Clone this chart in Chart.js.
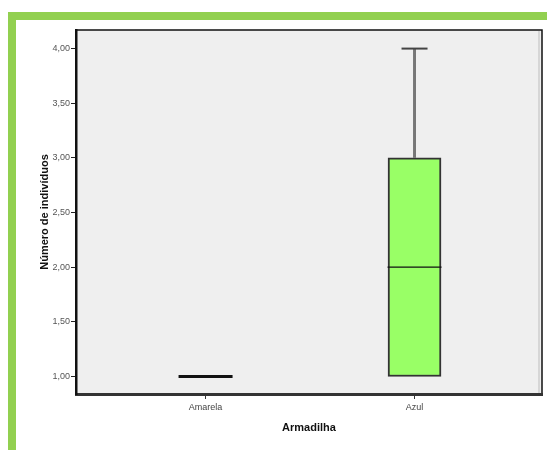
<!DOCTYPE html>
<html>
<head>
<meta charset="utf-8">
<script src="https://cdn.jsdelivr.net/npm/chart.js@4.4.0/dist/chart.umd.min.js"></script>
<style>
  body { margin: 0; background: #fff; }
  #frame {
    position: absolute; left: 8px; top: 12px; right: 0; bottom: 0;
    border-top: 8px solid #92d050; border-left: 8px solid #92d050;
  }
  #myChart { position: absolute; left: 0; top: 0; }
</style>
</head>
<body>
<div id="frame"></div>
<canvas id="myChart" width="547" height="450"></canvas>
<script>
// box plot values per trap colour
const categories = ['Amarela', 'Azul'];
const minValues = [1, 1];
const q1Values = [1, 1];
const medianValues = [1, 2];
const q3Values = [1, 3];
const maxValues = [1, 4];
const yTicks = [1, 1.5, 2, 2.5, 3, 3.5, 4];

const plotFrame = {
    id: 'plotFrame',
    beforeDraw(chart) {
        const a = chart.chartArea;
        const ctx = chart.ctx;
        ctx.save();
        ctx.fillStyle = '#efefef';
        ctx.fillRect(a.left, a.top, a.right - a.left, a.bottom - a.top);
        ctx.strokeStyle = '#d6d6d6';
        ctx.lineWidth = 2;
        ctx.beginPath();
        ctx.moveTo(a.right - 3, a.top + 1);
        ctx.lineTo(a.right - 3, a.bottom);
        ctx.stroke();
        ctx.strokeStyle = '#111';
        ctx.lineWidth = 1.5;
        ctx.beginPath();
        ctx.moveTo(a.left, a.top);
        ctx.lineTo(a.right, a.top);
        ctx.lineTo(a.right, a.bottom);
        ctx.stroke();
        ctx.restore();
    }
};

const boxPlot = {
    id: 'boxPlot',
    afterDatasetsDraw(chart) {
        const ctx = chart.ctx;
        const x = chart.scales.x;
        const y = chart.scales.y;
        const half = 27;
        const cap = 13;
        ctx.save();
        categories.forEach((c, i) => {
            const cx = x.getPixelForValue(i);
            // whiskers
            ctx.strokeStyle = '#777';
            ctx.lineWidth = 3;
            ctx.beginPath();
            if (maxValues[i] > q3Values[i]) {
                ctx.moveTo(cx, y.getPixelForValue(q3Values[i]));
                ctx.lineTo(cx, y.getPixelForValue(maxValues[i]));
            }
            if (minValues[i] < q1Values[i]) {
                ctx.moveTo(cx, y.getPixelForValue(q1Values[i]));
                ctx.lineTo(cx, y.getPixelForValue(minValues[i]));
            }
            ctx.stroke();
            ctx.strokeStyle = '#444';
            ctx.lineWidth = 2;
            ctx.beginPath();
            if (maxValues[i] > q3Values[i]) {
                ctx.moveTo(cx - cap, y.getPixelForValue(maxValues[i]));
                ctx.lineTo(cx + cap, y.getPixelForValue(maxValues[i]));
            }
            ctx.stroke();
            // median
            const my = y.getPixelForValue(medianValues[i]);
            ctx.strokeStyle = '#111';
            ctx.lineWidth = q1Values[i] === q3Values[i] ? 3 : 1.2;
            ctx.beginPath();
            ctx.moveTo(cx - half, my);
            ctx.lineTo(cx + half, my);
            ctx.stroke();
        });
        ctx.restore();
    }
};

const ctx = document.getElementById('myChart').getContext('2d');
new Chart(ctx, {
    type: 'bar',
    data: {
        datasets: [{
            label: 'Armadilha',
            data: categories.map((c, i) => ({ x: i, y: [q1Values[i], q3Values[i]] })),
            backgroundColor: '#99ff66',
            borderColor: '#333',
            borderWidth: 2,
            borderSkipped: false,
            barThickness: 53
        }]
    },
    plugins: [plotFrame, boxPlot],
    options: {
        responsive: false,
        animation: false,
        layout: { padding: { left: 34, top: 30, right: 5, bottom: 0 } },
        plugins: { legend: { display: false }, tooltip: { enabled: false } },
        scales: {
            x: {
                type: 'linear',
                offset: false,
                min: -0.62,
                max: 1.61,
                afterBuildTicks: scale => { scale.ticks = categories.map((c, i) => ({ value: i })); },
                afterFit: scale => { scale.height = 56; },
                grid: { offset: false, drawOnChartArea: false, tickLength: 5, color: '#333', tickWidth: 1 },
                border: { color: '#333', width: 3 },
                ticks: {
                    callback: v => categories[v],
                    font: { family: 'Arial, Liberation Sans', size: 9 },
                    color: '#444',
                    padding: 3,
                    maxRotation: 0
                },
                title: {
                    display: true,
                    text: 'Armadilha',
                    font: { family: 'Arial, Liberation Sans', size: 11, weight: 'bold' },
                    color: '#111',
                    padding: { top: 4, bottom: 15 }
                }
            },
            y: {
                min: 0.84,
                max: 4.17,
                afterBuildTicks: scale => { scale.ticks = yTicks.map(v => ({ value: v })); },
                afterFit: scale => { scale.width = 42; },
                grid: { drawOnChartArea: false, tickLength: 5, color: '#222', tickWidth: 1 },
                border: { color: '#111', width: 2.5 },
                ticks: {
                    callback: v => v.toFixed(2).replace('.', ','),
                    font: { family: 'Arial, Liberation Sans', size: 9 },
                    color: '#555',
                    padding: 1
                },
                title: {
                    display: true,
                    text: 'Número de indivíduos',
                    font: { family: 'Arial, Liberation Sans', size: 11, weight: 'bold' },
                    color: '#111',
                    padding: { top: 4, bottom: 4 }
                }
            }
        }
    }
});
</script>
</body>
</html>
